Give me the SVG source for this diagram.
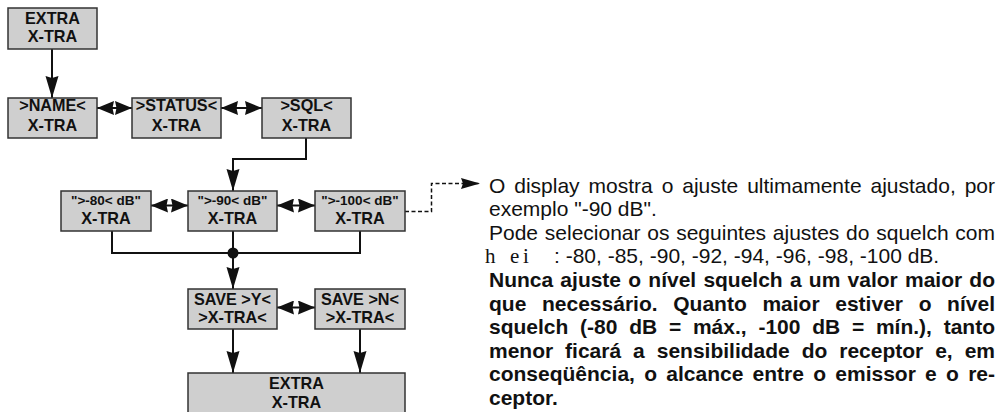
<svg xmlns="http://www.w3.org/2000/svg" width="1002" height="412" viewBox="0 0 1002 412">
<defs>
<style>
.box{fill:#cfcfcf;stroke:#333;stroke-width:1.5}
.bt{font-family:"Liberation Sans",Arial,Helvetica,sans-serif;font-weight:bold;font-size:16.2px;fill:#111;text-anchor:middle}
.bs{font-size:13.5px}
.ln{fill:none;stroke:#111;stroke-width:2}
.dl{fill:none;stroke:#111;stroke-width:1.5;stroke-dasharray:4 2.5}
.tx{font-family:"Liberation Sans",Arial,Helvetica,sans-serif;font-size:21px;fill:#111}
.b{font-weight:bold}
</style>
<marker id="ah" viewBox="0 0 22 14" refX="22" refY="7" markerWidth="22" markerHeight="14" markerUnits="userSpaceOnUse" orient="auto"><path d="M0,0.5 L22,7 L0,13.5 L2,7 Z" fill="#111"/></marker>
<marker id="dh" viewBox="0 0 17 14" refX="17" refY="7" markerWidth="17" markerHeight="14" markerUnits="userSpaceOnUse" orient="auto-start-reverse"><path d="M0,0 L17,7 L0,14 L1.5,7 Z" fill="#111"/></marker>
<marker id="sh" viewBox="0 0 19 11" refX="19" refY="5.5" markerWidth="19" markerHeight="11" markerUnits="userSpaceOnUse" orient="auto"><path d="M0,0 L19,5.5 L0,11 L2,5.5 Z" fill="#111"/></marker>
</defs>

<g id="connectors">
<path class="ln" d="M52,49 V98" marker-end="url(#ah)"/>
<path class="ln" d="M97,108 H132" marker-start="url(#dh)" marker-end="url(#dh)"/>
<path class="ln" d="M221,108 H262" marker-start="url(#dh)" marker-end="url(#dh)"/>
<path class="ln" d="M306,138 V159 H233 V191" marker-end="url(#ah)"/>
<path class="ln" d="M151,205.5 H188" marker-start="url(#dh)" marker-end="url(#dh)"/>
<path class="ln" d="M277,205.5 H315" marker-start="url(#dh)" marker-end="url(#dh)"/>
<path class="ln" d="M112,231 V253 H360 V231"/>
<path class="ln" d="M233,231 V253"/>
<circle cx="233" cy="253" r="5.5" fill="#111"/>
<path class="ln" d="M233,253 V289" marker-end="url(#ah)"/>
<path class="ln" d="M277,307.5 H315" marker-start="url(#dh)" marker-end="url(#dh)"/>
<path class="ln" d="M233,329 V373" marker-end="url(#ah)"/>
<path class="ln" d="M360,329 V373" marker-end="url(#ah)"/>
<path class="dl" d="M405,211.5 H431.5 V183.5 H480" marker-end="url(#sh)"/>
</g>

<g id="n-extra-top"><rect class="box" x="8" y="8" width="89" height="41"/><text class="bt" x="52.5" y="24">EXTRA</text><text class="bt" x="52.5" y="41.5">X-TRA</text></g>
<g id="n-name"><rect class="box" x="8" y="98" width="89" height="40"/><text class="bt" x="52.5" y="111">&gt;NAME&lt;</text><text class="bt" x="52.5" y="131">X-TRA</text></g>
<g id="n-status"><rect class="box" x="132" y="98" width="89" height="40"/><text class="bt" x="176.5" y="111">&gt;STATUS&lt;</text><text class="bt" x="176.5" y="131">X-TRA</text></g>
<g id="n-sql"><rect class="box" x="262" y="98" width="89" height="40"/><text class="bt" x="306.5" y="111">&gt;SQL&lt;</text><text class="bt" x="306.5" y="131">X-TRA</text></g>
<g id="n-80"><rect class="box" x="61" y="191" width="90" height="40"/><text class="bt bs" x="106" y="205">"&gt;-80&lt; dB"</text><text class="bt" x="106" y="224">X-TRA</text></g>
<g id="n-90"><rect class="box" x="188" y="191" width="89" height="40"/><text class="bt bs" x="232.5" y="205">"&gt;-90&lt; dB"</text><text class="bt" x="232.5" y="224">X-TRA</text></g>
<g id="n-100"><rect class="box" x="315" y="191" width="90" height="40"/><text class="bt bs" x="360" y="205">"&gt;-100&lt; dB"</text><text class="bt" x="360" y="224">X-TRA</text></g>
<g id="n-savey"><rect class="box" x="188" y="289" width="89" height="40"/><text class="bt" x="232.5" y="305">SAVE &gt;Y&lt;</text><text class="bt" x="232.5" y="322.5">&gt;X-TRA&lt;</text></g>
<g id="n-saven"><rect class="box" x="315" y="289" width="90" height="40"/><text class="bt" x="360" y="305">SAVE &gt;N&lt;</text><text class="bt" x="360" y="322.5">&gt;X-TRA&lt;</text></g>
<g id="n-extra-bottom"><rect class="box" x="188" y="373" width="217" height="50"/><text class="bt" x="296.5" y="389">EXTRA</text><text class="bt" x="296.5" y="408">X-TRA</text></g>

<g id="note">
<text class="tx" x="489" y="192.5" word-spacing="3.1" textLength="506" lengthAdjust="spacing">O display mostra o ajuste ultimamente ajustado, por</text>
<text class="tx" x="489" y="216.1">exemplo "-90 dB".</text>
<text class="tx" x="489" y="239.7" word-spacing="0.9" textLength="506" lengthAdjust="spacing">Pode selecionar os seguintes ajustes do squelch com</text>
<text class="tx" y="263.3"><tspan x="485" font-family="'Liberation Serif','Times New Roman',serif">h</tspan><tspan x="510" font-family="'Liberation Serif','Times New Roman',serif">e</tspan><tspan x="523" font-family="'Liberation Serif','Times New Roman',serif">i</tspan><tspan x="554">: -80, -85, -90, -92, -94, -96, -98, -100 dB.</tspan></text>
<text class="tx b" x="489" y="286.9" word-spacing="1.4" textLength="506" lengthAdjust="spacing">Nunca ajuste o nível squelch a um valor maior do</text>
<text class="tx b" x="489" y="310.5" word-spacing="9.8" textLength="506" lengthAdjust="spacing">que necessário. Quanto maior estiver o nível</text>
<text class="tx b" x="489" y="334.1" word-spacing="5.9" textLength="506" lengthAdjust="spacing">squelch (-80 dB = máx., -100 dB = mín.), tanto</text>
<text class="tx b" x="489" y="357.7" word-spacing="6.1" textLength="506" lengthAdjust="spacing">menor ficará a sensibilidade do receptor e, em</text>
<text class="tx b" x="489" y="381.3" word-spacing="3.4" textLength="506" lengthAdjust="spacing">conseqüência, o alcance entre o emissor e o re-</text>
<text class="tx b" x="489" y="404.9">ceptor.</text>
</g>
</svg>
